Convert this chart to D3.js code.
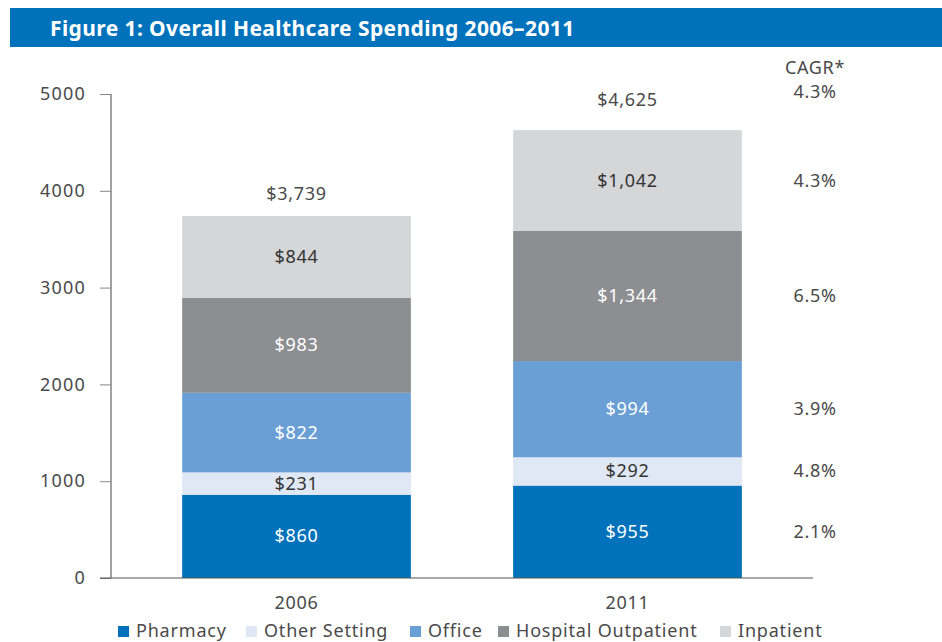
<!DOCTYPE html>
<html><head><meta charset="utf-8">
<script src="https://cdn.jsdelivr.net/npm/d3@7"></script>
<style>body{margin:0;background:#fff}svg{display:block}text{font-family:"Noto Sans",sans-serif}</style>
</head><body><svg id="c" width="942" height="642"></svg>
<script>
const years = ["2006", "2011"];
const categories = ["Pharmacy", "Other Setting", "Office", "Hospital Outpatient", "Inpatient"];
const pharmacy = [860, 955];
const otherSetting = [231, 292];
const office = [822, 994];
const hospitalOutpatient = [983, 1344];
const inpatient = [844, 1042];
const totals = [3739, 4625];
const cagr = ["2.1%", "4.8%", "3.9%", "6.5%", "4.3%"];
const cagrTotal = "4.3%";
const yTicks = [0, 1000, 2000, 3000, 4000, 5000];
const colors = ["#0072bc", "#e1e8f5", "#6a9fd6", "#8d8e91", "#d5d6d8"];
const labelDark = [false, true, false, false, true];

const series = [pharmacy, otherSetting, office, hospitalOutpatient, inpatient];
const rows = years.map((y, i) => {
  const r = {year: y};
  categories.forEach((c, k) => r[c] = series[k][i]);
  return r;
});
const stack = d3.stack().keys(categories)(rows);

const svg = d3.select("#c");
const FS = 18, LS = 0.7, TXT = "#4a4a4a";
svg.append("rect").attr("x", 10).attr("y", 8).attr("width", 932).attr("height", 39).attr("fill", "#0072bc");
svg.append("text").attr("x", 50).attr("y", 36).attr("fill", "#fff").attr("font-size", 21).attr("letter-spacing", 0.4).attr("font-weight", 700)
  .text("Figure 1: Overall Healthcare Spending 2006\u20132011");

const y = d3.scaleLinear().domain([0, 5000]).range([578, 94]);
const x = d3.scaleBand().domain(years).range([111, 813]).paddingInner(0.309).paddingOuter(0.215);

const fmt = d3.format("$,");
const g = svg.append("g");
const yAx = svg.append("g").attr("transform", "translate(111,0)")
  .call(d3.axisLeft(y).tickValues(yTicks).tickSize(11).tickPadding(14).tickFormat(d3.format("d")));
yAx.select(".domain").attr("stroke", "#444").attr("d", `M0,${y(5000)}V${y(0)}`);
yAx.selectAll(".tick line").attr("stroke", "#888");
yAx.selectAll("text").attr("font-size", FS).attr("letter-spacing", 1.2).attr("fill", TXT).attr("font-family", "Noto Sans");

stack.forEach((s, k) => {
  g.selectAll(null).data(s).enter().append("rect")
    .attr("x", d => x(d.data.year)).attr("width", x.bandwidth())
    .attr("y", d => y(d[1])).attr("height", d => y(d[0]) - y(d[1]))
    .attr("fill", colors[k]);
  g.selectAll(null).data(s).enter().append("text")
    .attr("x", d => x(d.data.year) + x.bandwidth() / 2)
    .attr("y", d => (y(d[0]) + y(d[1])) / 2 + 6)
    .attr("text-anchor", "middle").attr("font-size", FS).attr("letter-spacing", LS)
    .attr("fill", labelDark[k] ? "#333" : "#fff")
    .text(d => fmt(d[1] - d[0]));
});

svg.append("line").attr("x1", 100).attr("x2", 813).attr("y1", y(0)).attr("y2", y(0)).attr("stroke", "#555");

const totalGap = [16, 24];
svg.selectAll(null).data(years).enter().append("text")
  .attr("x", d => x(d) + x.bandwidth() / 2).attr("y", (d, i) => y(totals[i]) - totalGap[i])
  .attr("text-anchor", "middle").attr("font-size", FS).attr("letter-spacing", LS).attr("fill", TXT)
  .text((d, i) => fmt(totals[i]));

svg.selectAll(null).data(years).enter().append("text")
  .attr("x", d => x(d) + x.bandwidth() / 2).attr("y", 609)
  .attr("text-anchor", "middle").attr("font-size", FS).attr("letter-spacing", LS).attr("fill", TXT).text(d => d);

// CAGR column
const cx = 815;
svg.append("text").attr("x", cx).attr("y", 74).attr("text-anchor", "middle").attr("font-size", FS).attr("letter-spacing", LS).attr("fill", TXT).text("CAGR*");
svg.append("text").attr("x", cx).attr("y", 98).attr("text-anchor", "middle").attr("font-size", FS).attr("letter-spacing", LS).attr("fill", TXT).text(cagrTotal);
stack.forEach((s, k) => {
  const d = s[1];
  svg.append("text").attr("x", cx).attr("y", (y(d[0]) + y(d[1])) / 2 + 6)
    .attr("text-anchor", "middle").attr("font-size", FS).attr("letter-spacing", LS).attr("fill", TXT).text(cagr[k]);
});

// legend
const legX = [118, 246, 410, 498, 720];
categories.forEach((c, k) => {
  svg.append("rect").attr("x", legX[k]).attr("y", 626).attr("width", 11).attr("height", 11).attr("fill", colors[k]);
  svg.append("text").attr("x", legX[k] + 18).attr("y", 637).attr("font-size", FS).attr("letter-spacing", 0.8).attr("fill", TXT).text(c);
});
</script></body></html>
